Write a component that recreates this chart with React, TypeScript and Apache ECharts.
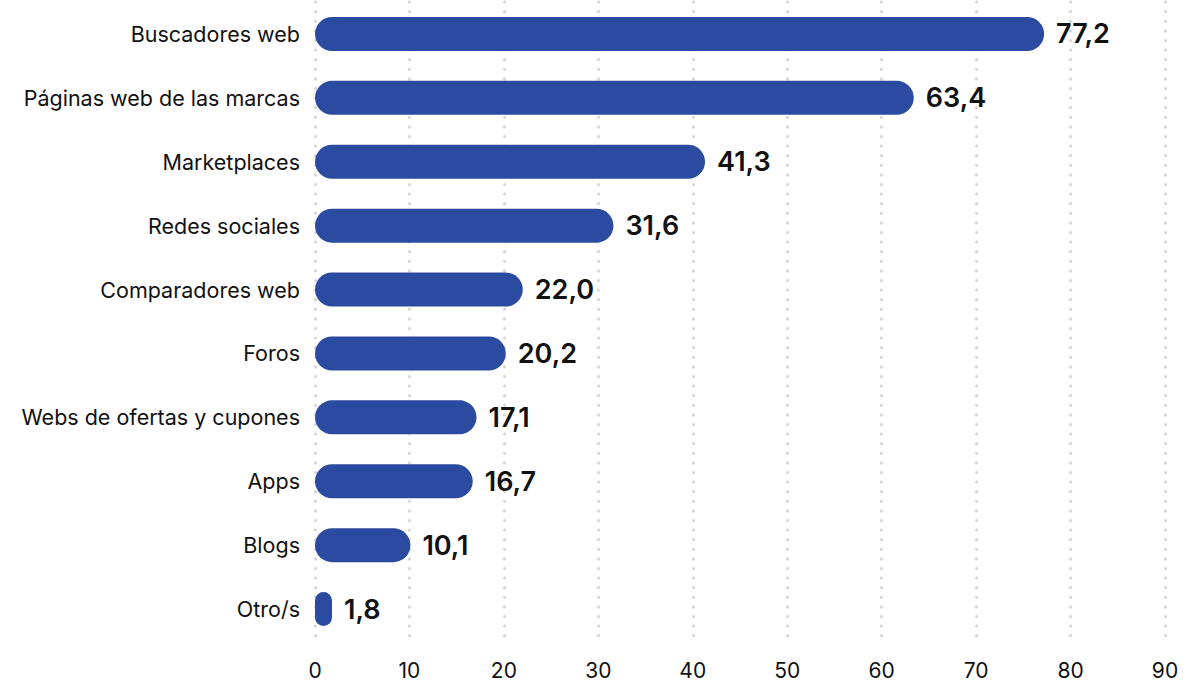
import React, { useEffect, useRef } from "react";
import * as echarts from "echarts";

const categories = [
  "Buscadores web",
  "Páginas web de las marcas",
  "Marketplaces",
  "Redes sociales",
  "Comparadores web",
  "Foros",
  "Webs de ofertas y cupones",
  "Apps",
  "Blogs",
  "Otro/s",
];
const values = [77.2, 63.4, 41.3, 31.6, 22.0, 20.2, 17.1, 16.7, 10.1, 1.8];

export default function App() {
  const ref = useRef<HTMLDivElement>(null);
  useEffect(() => {
    const chart = echarts.init(ref.current!, null, { renderer: "svg" });
    chart.setOption({
      animation: false,
      grid: { left: 315, right: 23, top: 2, bottom: 42, containLabel: false },
      xAxis: {
        type: "value",
        min: 0,
        max: 90,
        interval: 10,
        axisLine: { show: false },
        axisTick: { show: false },
        axisLabel: { color: "#111", fontSize: 21, fontFamily: "Inter", margin: 19, lineHeight: 21 },
        splitLine: {
          show: true,
          lineStyle: { color: "#d4d4d4", width: 3, type: [0.1, 9.5], cap: "round" },
        },
      },
      yAxis: {
        type: "category",
        data: categories,
        inverse: true,
        axisLine: { show: false },
        axisTick: { show: false },
        axisLabel: { color: "#111", fontSize: 21.5, fontFamily: "Inter", margin: 15 },
      },
      series: [
        {
          type: "bar",
          data: values,
          barWidth: 34,
          itemStyle: { color: "#2B4BA1", borderRadius: 17 },
          label: {
            show: true,
            position: "right",
            distance: 12,
            color: "#111",
            fontSize: 27,
            fontWeight: 560,
            fontFamily: "Inter",
            formatter: (p: any) => p.value.toFixed(1).replace(".", ","),
          },
        },
      ],
    });
    return () => chart.dispose();
  }, []);
  return <div ref={ref} style={{ width: 1188, height: 683, position: "absolute", left: 0, top: 0 }} />;
}
